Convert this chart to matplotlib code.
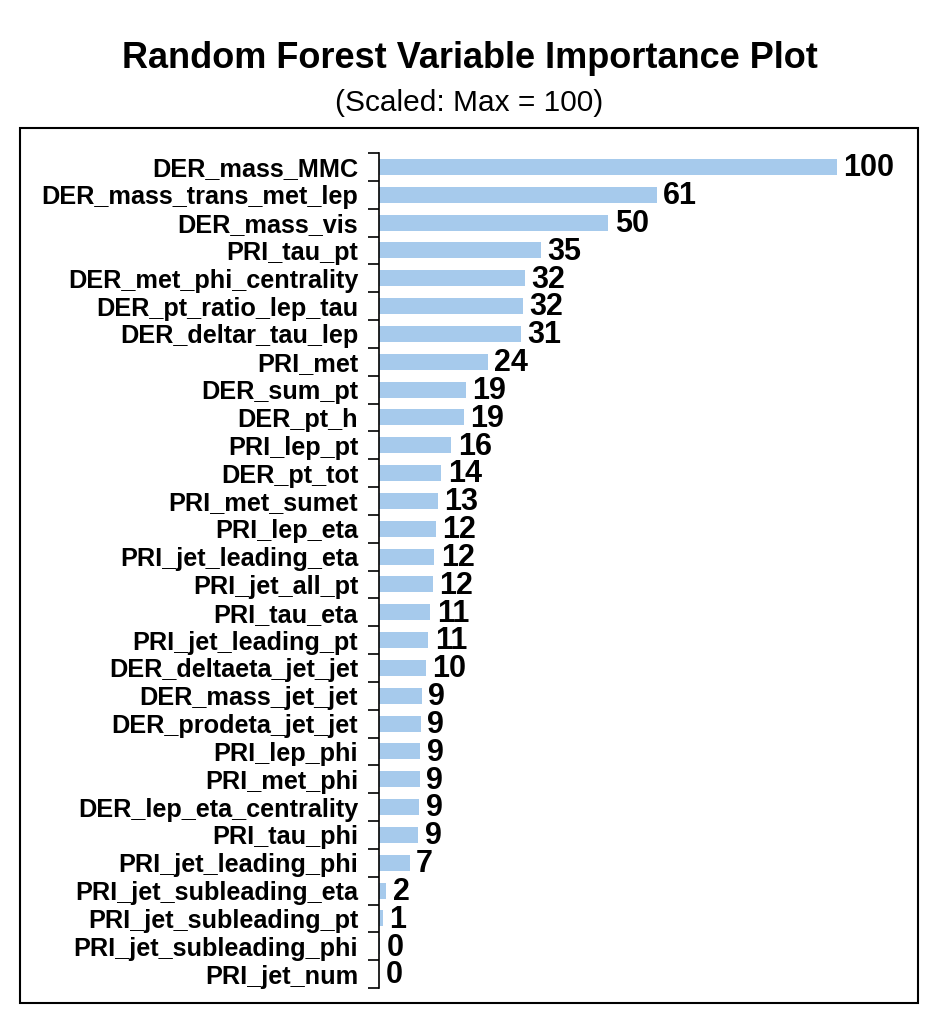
import matplotlib.pyplot as plt
from matplotlib.patches import Rectangle
from matplotlib.ticker import FixedLocator
import numpy as np

plt.rcParams['font.family'] = ['Liberation Sans', 'DejaVu Sans']

variables = [
    "DER_mass_MMC", "DER_mass_trans_met_lep", "DER_mass_vis", "PRI_tau_pt",
    "DER_met_phi_centrality", "DER_pt_ratio_lep_tau", "DER_deltar_tau_lep",
    "PRI_met", "DER_sum_pt", "DER_pt_h", "PRI_lep_pt", "DER_pt_tot",
    "PRI_met_sumet", "PRI_lep_eta", "PRI_jet_leading_eta", "PRI_jet_all_pt",
    "PRI_tau_eta", "PRI_jet_leading_pt", "DER_deltaeta_jet_jet",
    "DER_mass_jet_jet", "DER_prodeta_jet_jet", "PRI_lep_phi", "PRI_met_phi",
    "DER_lep_eta_centrality", "PRI_tau_phi", "PRI_jet_leading_phi",
    "PRI_jet_subleading_eta", "PRI_jet_subleading_pt",
    "PRI_jet_subleading_phi", "PRI_jet_num",
]
importance = [100, 60.6, 50.1, 35.3, 31.8, 31.5, 30.9, 23.7, 18.9, 18.6,
              15.8, 13.6, 12.9, 12.4, 12.1, 11.7, 11.2, 10.8, 10.3, 9.3,
              9.1, 9.0, 8.9, 8.8, 8.6, 6.7, 1.6, 0.9, 0.2, 0.0]

fig = plt.figure(figsize=(9.39, 10.24), dpi=100)
ax = fig.add_axes([379 / 939, 1 - 988 / 1024, (905 - 379) / 939, (988 - 153) / 1024])

n = len(variables)
y = np.arange(n)
ax.barh(y, importance, height=0.58, color="#A6CAEC")
ax.set_ylim(n - 0.5, -0.5)
ax.set_xlim(0, (905 - 379) / 4.58)

for yi, v in zip(y, importance):
    ax.text(v + 1.4, yi + 0.05, f"{round(v):d}", va="center", ha="left",
            fontsize=22, fontweight="bold")

ax.set_yticks(y)
ax.set_yticklabels(variables, fontsize=18.2, fontweight="bold")
ax.yaxis.set_minor_locator(FixedLocator(np.arange(n + 1) - 0.5))
ax.tick_params(axis="y", which="major", length=0, pad=15)
ax.tick_params(axis="y", which="minor", length=8, width=1.2)
ax.set_xticks([])
for s in ["top", "right", "bottom"]:
    ax.spines[s].set_visible(False)
ax.spines["left"].set_linewidth(1.2)

fig.text(0.5, 1 - 58 / 1024, "Random Forest Variable Importance Plot",
         ha="center", va="center", fontsize=26, fontweight="bold")
fig.text(0.5, 1 - 103 / 1024, "(Scaled: Max = 100)",
         ha="center", va="center", fontsize=21.5)

fig.patches.append(Rectangle((20 / 939, 1 - 1003 / 1024), (918 - 20) / 939,
                             (1003 - 128) / 1024, transform=fig.transFigure,
                             fill=False, edgecolor="black", linewidth=1.5))

fig.savefig("out.png", dpi=100)
